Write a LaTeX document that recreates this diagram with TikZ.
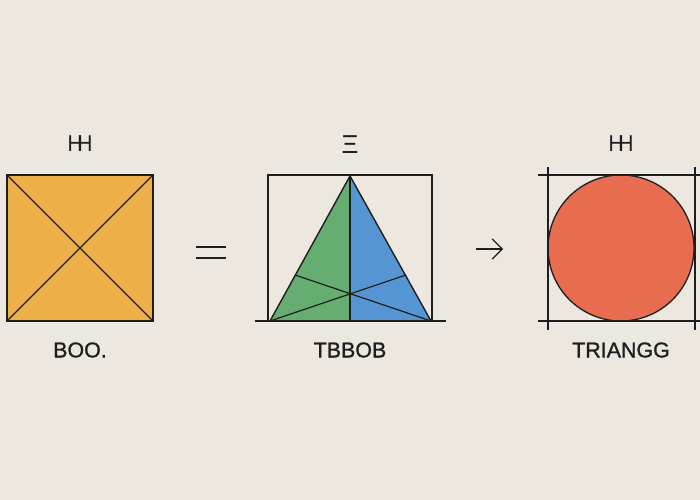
\documentclass[tikz,border=0pt]{standalone}
\usepackage{fontspec}
\setmainfont{Liberation Sans}
\newfontfamily\capfont[FakeBold=1.2]{Liberation Sans}
\usetikzlibrary{arrows.meta}
\definecolor{bg}{HTML}{ECE8E0}
\definecolor{ink}{HTML}{1E1E1E}
\definecolor{sqfill}{HTML}{EDB04A}
\definecolor{trigreen}{HTML}{66AD72}
\definecolor{triblue}{HTML}{5595D3}
\definecolor{circred}{HTML}{E76C50}
\tikzset{
  stroke/.style={draw=ink, line width=1.4bp},
  thin stroke/.style={draw=ink, line width=1.2bp},
  caption/.style={inner sep=0pt, text=ink, font=\capfont\fontsize{21.5}{24}\selectfont},
  glyph/.style={inner sep=0pt, text=ink, font=\fontsize{23}{26}\selectfont},
  xiglyph/.style={inner sep=0pt, text=ink, font=\fontsize{26}{28}\selectfont},
}
\newcommand{\doubleH}{\scalebox{0.9}[1]{H\kern-0.238em H}}
\begin{document}
\begin{tikzpicture}[x=1bp,y=-1bp]
\fill[bg] (0,0) rectangle (700,500);
\useasboundingbox (0,0) rectangle (700,500);

% ---------- square panel ----------
\coordinate (sqTL) at (7,175);
\coordinate (sqTR) at (153,175);
\coordinate (sqBL) at (7,321);
\coordinate (sqBR) at (153,321);
\fill[sqfill] (sqTL) rectangle (sqBR);
\draw[thin stroke] (sqTL) -- (sqBR);
\draw[thin stroke] (sqTR) -- (sqBL);
\draw[stroke] (sqTL) rectangle (sqBR);
\node[glyph] (sqtop) at (80,144) {\doubleH};
\node[caption] (sqlab) at (80,350) {BOO.};

% ---------- equals ----------
\coordinate (eqA1) at (196,247);
\coordinate (eqA2) at (226,247);
\coordinate (eqB1) at (196,258);
\coordinate (eqB2) at (226,258);
\draw[thin stroke] (eqA1) -- (eqA2);
\draw[thin stroke] (eqB1) -- (eqB2);

% ---------- triangle panel ----------
\coordinate (trApex) at (350,176);
\coordinate (trL) at (270,321);
\coordinate (trR) at (431,321);
\coordinate (trM) at (350,321);
\coordinate (trLs) at (295,275);
\coordinate (trRs) at (406,275);
\fill[trigreen] (trApex) -- (trL) -- (trM) -- cycle;
\fill[triblue] (trApex) -- (trM) -- (trR) -- cycle;
\draw[thin stroke] (268,175) rectangle (432,321);
\draw[thin stroke] (trApex) -- (trM);
\draw[thin stroke] (trL) -- (trRs);
\draw[thin stroke] (trR) -- (trLs);
\draw[stroke, line join=round] (trL) -- (trApex) -- (trR);
\coordinate (blineL) at (255,321);
\coordinate (blineR) at (446,321);
\draw[stroke] (blineL) -- (blineR);
\node[xiglyph] (trtop) at (350,145) {Ξ};
\node[caption] (trlab) at (350,350) {TBBOB};

% ---------- arrow ----------
\coordinate (arA) at (476,249);
\coordinate (arB) at (503,249);
\draw[thin stroke, -{Straight Barb[length=10bp,width=20bp,line width=1.2bp]}] (arA) -- (arB);

% ---------- circle panel ----------
\node[circle, fill=circred, draw=ink, line width=1.3bp, minimum size=146bp, inner sep=0pt] (circ) at (621,248) {};
\coordinate (hT1) at (538,175);
\coordinate (hT2) at (701,175);
\coordinate (hB1) at (538,321);
\coordinate (hB2) at (701,321);
\coordinate (vL1) at (548,167);
\coordinate (vL2) at (548,330);
\coordinate (vR1) at (695,167);
\coordinate (vR2) at (695,330);
\draw[thin stroke] (hT1) -- (hT2);
\draw[thin stroke] (hB1) -- (hB2);
\draw[thin stroke] (vL1) -- (vL2);
\draw[thin stroke] (vR1) -- (vR2);
\node[glyph] (crtop) at (621,144) {\doubleH};
\node[caption] (crlab) at (621,350) {TRIANGG};
\end{tikzpicture}
\end{document}
